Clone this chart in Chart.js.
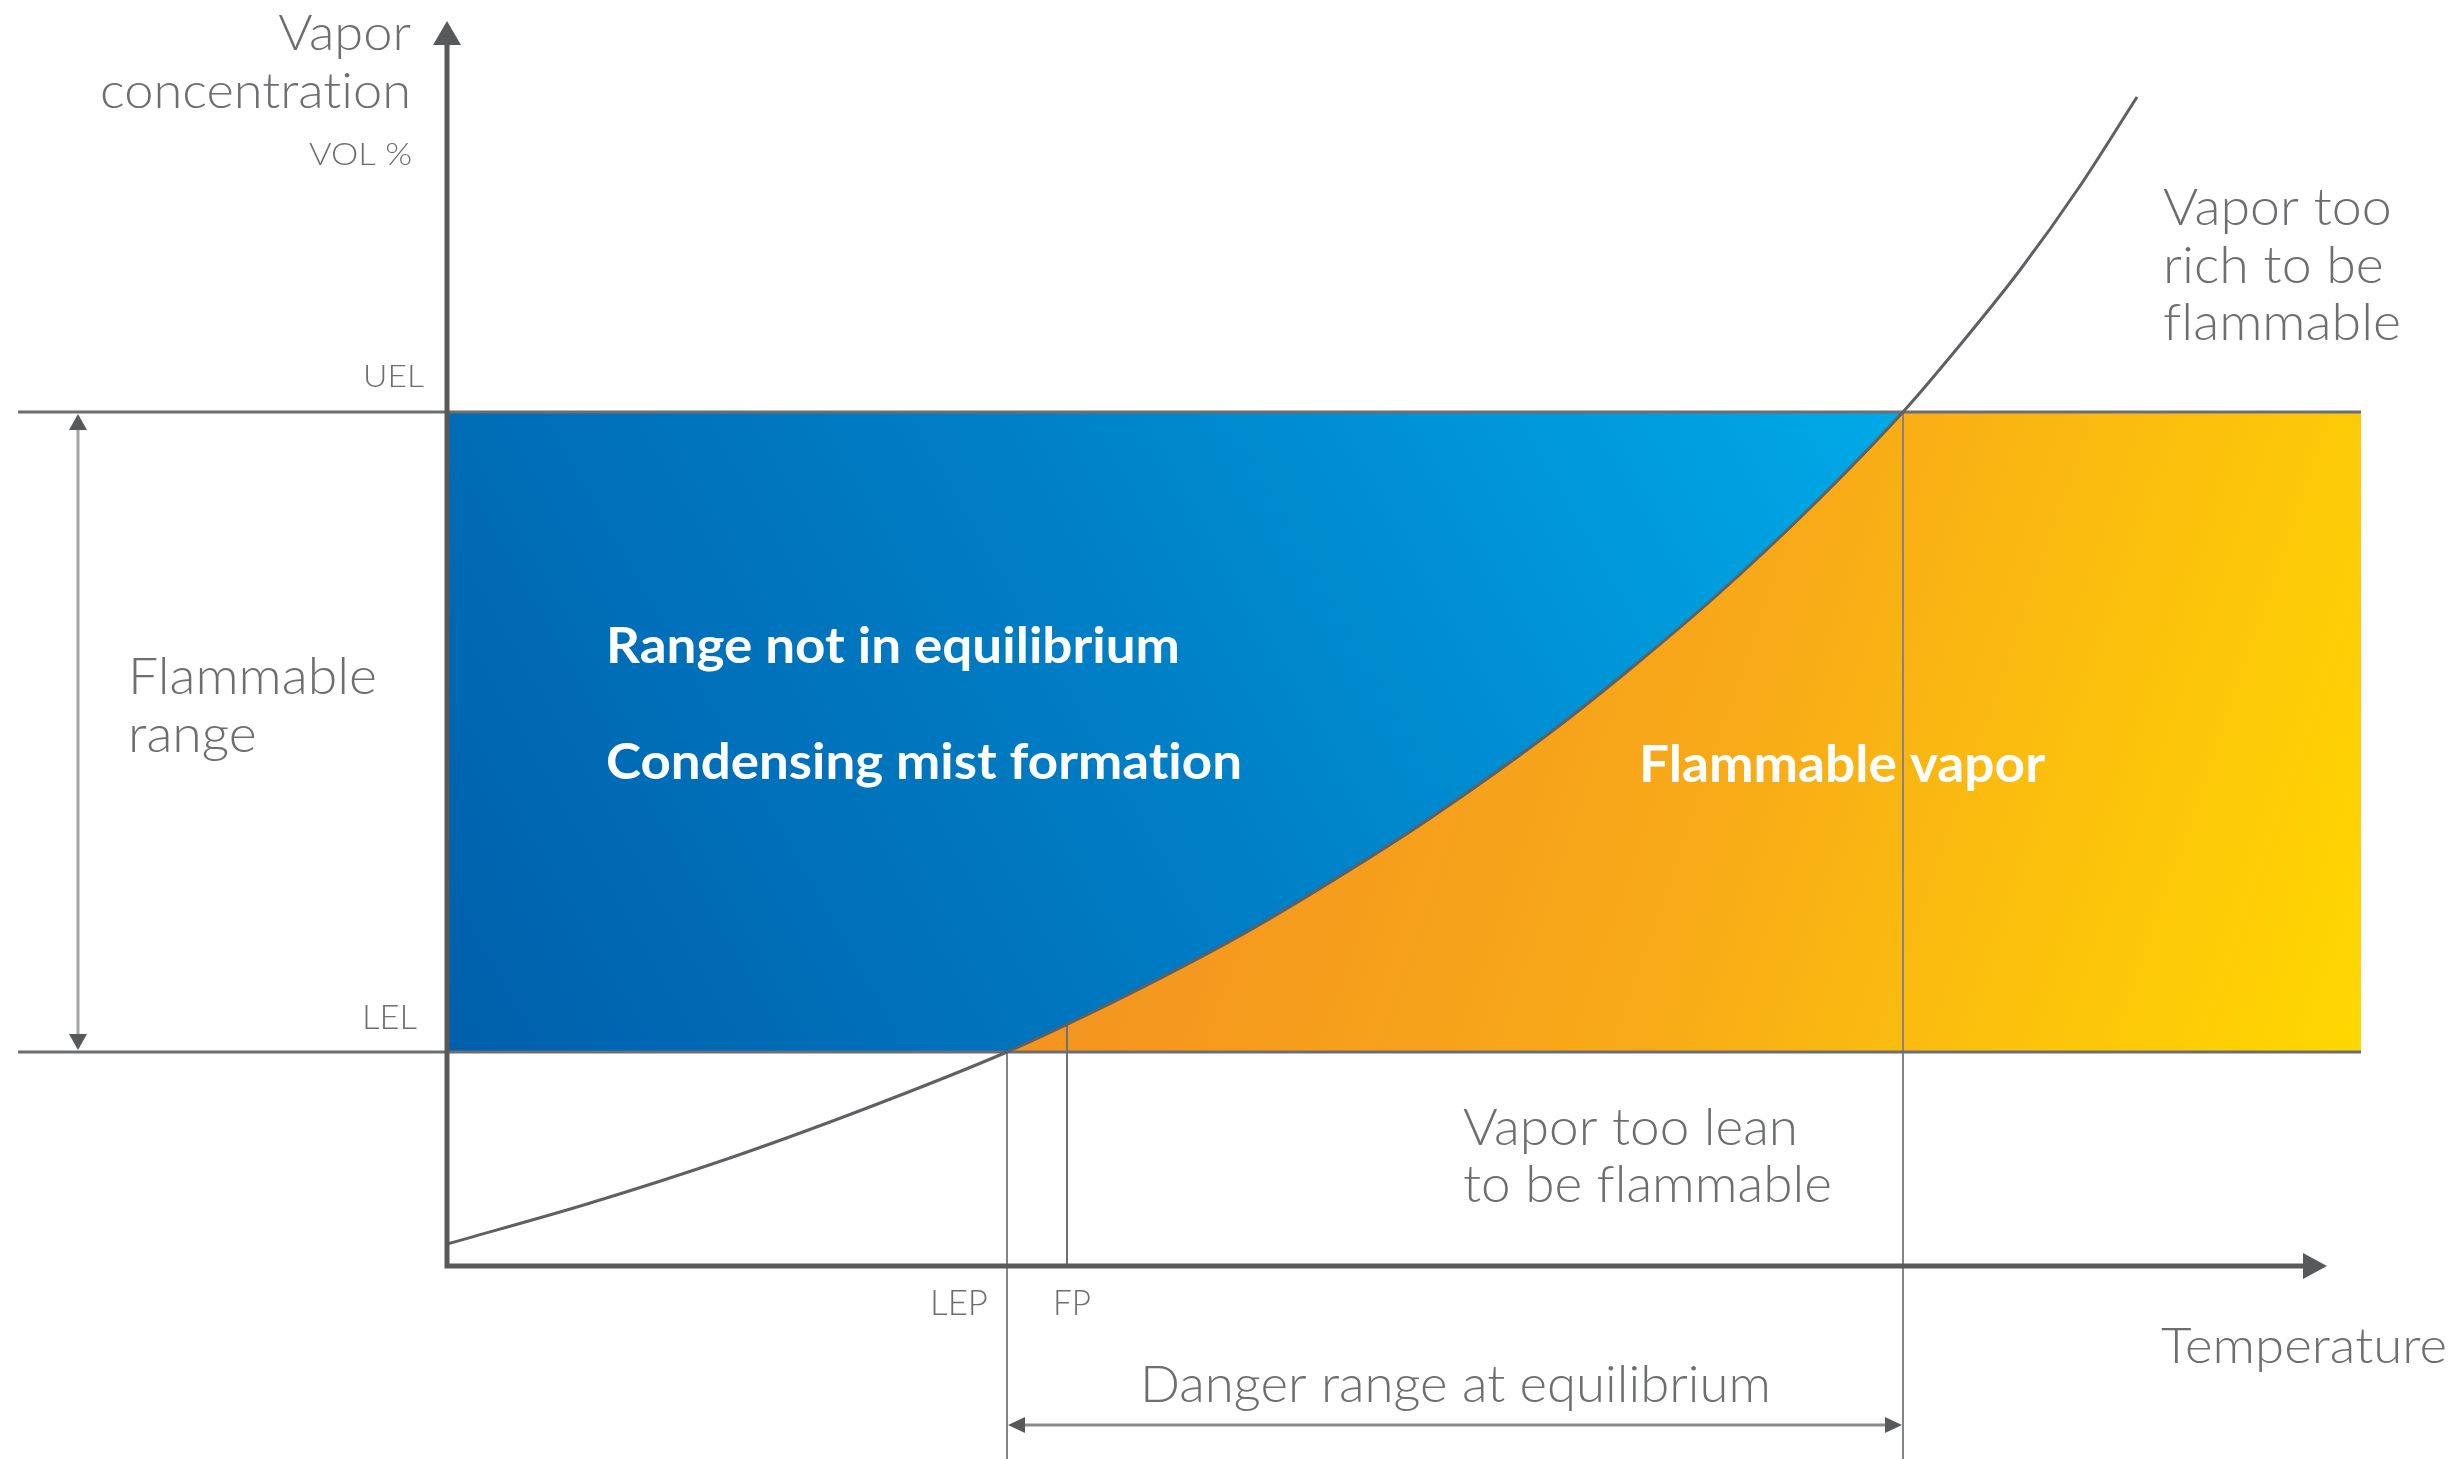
<!DOCTYPE html>
<html>
<head>
<meta charset="utf-8">
<title>Flammable range of a vapor</title>
<style>
  html, body { margin: 0; padding: 0; background: #ffffff; }
  canvas { display: block; }
</style>
<script src="https://cdn.jsdelivr.net/npm/chart.js@4.4.1/dist/chart.umd.min.js"></script>
</head>
<body>
<canvas id="chart" width="2459" height="1459"></canvas>
<script>
// Equilibrium vapor concentration curve (diagram units: temperature, vol %)
const curveTemp = [0, 14, 28, 42, 56, 62, 70.9, 79.8, 89, 98.2, 110.4, 118.8, 126.9, 136.3, 145.6, 151.3, 157.3, 163.3, 169];
const curveConc = [2.2, 6.2, 10.7, 15.8, 21.4, 24.15, 28.55, 33.3, 38.8, 44.7, 53.4, 60.1, 67.0, 75.8, 85.4, 92.1, 99.6, 108.0, 116.9];

// Explosion limits (concentration levels)
const LEL = 21.4;
const UEL = 85.4;

// Characteristic temperatures
const tempLEP = 56;     // lower explosion point
const tempFP = 62;      // flash point
const tempRich = 145.6; // curve reaches the UEL

// Extents of the drawing, in the same units
const xRange = [-44.7, 201.2];
const yRange = [-19.3, 126.6];
const fillEnd = 191.4;
const levelLineStart = -42.9;
const axisTempEnd = 188;
const axisConcEnd = 124.5;
const rangeArrowTemp = -36.9;
const dangerLevel = -15.9;

const curvePts = curveTemp.map((t, i) => ({ x: t, y: curveConc[i] }));
const concAtFP = curveConc[curveTemp.indexOf(tempFP)];

const GREY_TEXT = '#6d6e70';
const FONT = 'Lato, "Open Sans", "Noto Sans", sans-serif';

// gradients are rebuilt once the scales are laid out
const fills = { blue: '#0070b8', orange: '#f7a21b' };

const gradientPlugin = {
  id: 'regionGradients',
  afterLayout(chart) {
    const { x, y } = chart.scales;
    const ctx = chart.ctx;
    const bx0 = x.getPixelForValue(0), by0 = y.getPixelForValue(LEL);
    const bx1 = x.getPixelForValue(140), by1 = y.getPixelForValue(101.5);
    if ([bx0, by0, bx1, by1].every(Number.isFinite)) {
      const g = ctx.createLinearGradient(bx0, by0, bx1, by1);
      g.addColorStop(0, '#005fab');
      g.addColorStop(0.5, '#0080c7');
      g.addColorStop(1, '#00abe7');
      fills.blue = g;
    }
    const ox0 = x.getPixelForValue(60.3), oy0 = y.getPixelForValue(66.6);
    const ox1 = x.getPixelForValue(fillEnd), oy1 = y.getPixelForValue(LEL);
    if ([ox0, oy0, ox1, oy1].every(Number.isFinite)) {
      const g = ctx.createLinearGradient(ox0, oy0, ox1, oy1);
      g.addColorStop(0, '#f38f21');
      g.addColorStop(0.5, '#f8aa18');
      g.addColorStop(1, '#ffd800');
      fills.orange = g;
    }
  }
};

function seg(points, color, width, order, extra) {
  return Object.assign({
    data: points,
    showLine: true,
    borderColor: color,
    borderWidth: width,
    pointRadius: 0,
    pointHoverRadius: 0,
    fill: false,
    order: order
  }, extra || {});
}

// Text blocks: lines share one font size and one horizontal scale
const labelBlocks = [
  { lines: ['Vapor', 'concentration'], x: 411, y: 50, lh: 58, align: 'right', size: 49, weight: 300, color: GREY_TEXT, ref: 1, refWidth: 311 },
  { lines: ['VOL %'], x: 412, y: 165, lh: 0, align: 'right', size: 32, weight: 300, color: GREY_TEXT, ref: 0, refWidth: 103 },
  { lines: ['UEL'], x: 424, y: 387, lh: 0, align: 'right', size: 31, weight: 300, color: GREY_TEXT, ref: 0, refWidth: 61 },
  { lines: ['LEL'], x: 417, y: 1029, lh: 0, align: 'right', size: 33, weight: 300, color: GREY_TEXT, ref: 0, refWidth: 55 },
  { lines: ['Flammable', 'range'], x: 128, y: 694, lh: 58, align: 'left', size: 52, weight: 300, color: GREY_TEXT, ref: 0, refWidth: 249 },
  { lines: ['Range not in equilibrium'], x: 606, y: 663, lh: 0, align: 'left', size: 50, weight: 700, color: '#ffffff', ref: 0, refWidth: 574 },
  { lines: ['Condensing mist formation'], x: 606, y: 779, lh: 0, align: 'left', size: 50, weight: 700, color: '#ffffff', ref: 0, refWidth: 636 },
  { lines: ['Flammable vapor'], x: 1639, y: 782, lh: 0, align: 'left', size: 52, weight: 700, color: '#ffffff', ref: 0, refWidth: 406 },
  { lines: ['Vapor too', 'rich to be', 'flammable'], x: 2163, y: 225, lh: 57.5, align: 'left', size: 52, weight: 300, color: GREY_TEXT, ref: 2, refWidth: 238 },
  { lines: ['Vapor too lean', 'to be flammable'], x: 1463, y: 1145, lh: 57, align: 'left', size: 52, weight: 300, color: GREY_TEXT, ref: 1, refWidth: 369 },
  { lines: ['LEP'], x: 988, y: 1315, lh: 0, align: 'right', size: 35, weight: 300, color: GREY_TEXT, ref: 0, refWidth: 58 },
  { lines: ['FP'], x: 1053, y: 1315, lh: 0, align: 'left', size: 35, weight: 300, color: GREY_TEXT, ref: 0, refWidth: 38 },
  { lines: ['Temperature'], x: 2161, y: 1363, lh: 0, align: 'left', size: 50, weight: 300, color: GREY_TEXT, ref: 0, refWidth: 286 },
  { lines: ['Danger range at equilibrium'], x: 1140, y: 1402, lh: 0, align: 'left', size: 52, weight: 300, color: GREY_TEXT, ref: 0, refWidth: 631 }
];

function arrowHead(ctx, tipX, tipY, dx, dy, len, half, color) {
  const bx = tipX - dx * len, by = tipY - dy * len;
  ctx.beginPath();
  ctx.moveTo(tipX, tipY);
  ctx.lineTo(bx - dy * half, by + dx * half);
  ctx.lineTo(bx + dy * half, by - dx * half);
  ctx.closePath();
  ctx.fillStyle = color;
  ctx.fill();
}

const diagramPlugin = {
  id: 'diagramDecor',
  afterDatasetsDraw(chart) {
    const ctx = chart.ctx;
    const xs = chart.scales.x, ys = chart.scales.y;
    const ox = xs.getPixelForValue(0), oy = ys.getPixelForValue(0);
    const yTip = ys.getPixelForValue(axisConcEnd);
    const xTip = xs.getPixelForValue(axisTempEnd);
    const AXIS = '#58595b';
    ctx.save();
    ctx.strokeStyle = AXIS;
    ctx.lineWidth = 5;
    ctx.lineCap = 'butt';
    ctx.beginPath();
    ctx.moveTo(ox, oy + 2.5);
    ctx.lineTo(ox, yTip + 22);
    ctx.moveTo(ox - 2.5, oy);
    ctx.lineTo(xTip - 22, oy);
    ctx.stroke();
    arrowHead(ctx, ox, yTip, 0, -1, 24, 14, AXIS);
    arrowHead(ctx, xTip, oy, 1, 0, 24, 13, AXIS);

    // flammable range double arrow
    const ax = xs.getPixelForValue(rangeArrowTemp);
    arrowHead(ctx, ax, ys.getPixelForValue(UEL) + 2, 0, -1, 16, 9, '#58595b');
    arrowHead(ctx, ax, ys.getPixelForValue(LEL) - 2, 0, 1, 16, 9, '#58595b');

    // danger range double arrow
    const dy = ys.getPixelForValue(dangerLevel);
    arrowHead(ctx, xs.getPixelForValue(tempLEP) + 1, dy, -1, 0, 17, 8, '#58595b');
    arrowHead(ctx, xs.getPixelForValue(tempRich) - 1, dy, 1, 0, 17, 8, '#58595b');
    ctx.restore();
  },
  afterDraw(chart) {
    const ctx = chart.ctx;
    ctx.save();
    ctx.textBaseline = 'alphabetic';
    // plain glyphs, no "ti"/"fi" ligatures
    if ('textRendering' in ctx) ctx.textRendering = 'optimizeSpeed';
    if ('letterSpacing' in ctx) ctx.letterSpacing = '0.01px';
    labelBlocks.forEach(b => {
      ctx.font = `${b.weight} ${b.size}px ${FONT}`;
      const measured = ctx.measureText(b.lines[b.ref]).width;
      const sx = b.refWidth / measured;
      ctx.fillStyle = b.color;
      b.lines.forEach((line, i) => {
        ctx.save();
        ctx.translate(b.x, b.y + i * b.lh);
        ctx.scale(sx, 1);
        ctx.textAlign = b.align;
        ctx.fillText(line, 0, 0);
        ctx.restore();
      });
    });
    ctx.restore();
  }
};

new Chart(document.getElementById('chart'), {
  type: 'scatter',
  data: {
    datasets: [
      // flammable area between the limits (orange to yellow)
      seg([{ x: 0, y: UEL }, { x: fillEnd, y: UEL }], 'rgba(0,0,0,0)', 0, 10,
        { fill: { target: { value: LEL } }, backgroundColor: () => fills.orange }),
      // not-in-equilibrium area above the curve (blue)
      seg(curvePts, 'rgba(0,0,0,0)', 0, 9,
        { fill: { target: { value: UEL }, above: 'rgba(0,0,0,0)' }, backgroundColor: () => fills.blue, cubicInterpolationMode: 'monotone' }),
      // keep the area under the LEL white
      seg(curvePts, 'rgba(0,0,0,0)', 0, 8,
        { fill: { target: { value: LEL }, above: 'rgba(0,0,0,0)' }, backgroundColor: '#ffffff', cubicInterpolationMode: 'monotone' }),
      // reference verticals
      seg([{ x: tempRich, y: UEL }, { x: tempRich, y: yRange[0] }], '#838487', 2, 6),
      seg([{ x: tempLEP, y: LEL }, { x: tempLEP, y: yRange[0] }], '#838487', 2, 6),
      seg([{ x: tempFP, y: concAtFP }, { x: tempFP, y: 0 }], '#6f7073', 2, 6),
      // limit levels
      seg([{ x: levelLineStart, y: UEL }, { x: fillEnd, y: UEL }], '#6d6e71', 3, 4),
      seg([{ x: levelLineStart, y: LEL }, { x: fillEnd, y: LEL }], '#6d6e71', 3, 4),
      // vapor concentration curve
      seg(curvePts, '#5f6063', 3, 3, { cubicInterpolationMode: 'monotone' }),
      // range arrows (shafts)
      seg([{ x: rangeArrowTemp, y: LEL + 0.6 }, { x: rangeArrowTemp, y: UEL - 0.6 }], '#a3a5a8', 3, 2),
      seg([{ x: tempLEP + 1.2, y: dangerLevel }, { x: tempRich - 1.2, y: dangerLevel }], '#8a8b8e', 3, 2)
    ]
  },
  options: {
    responsive: false,
    devicePixelRatio: 1,
    animation: false,
    events: [],
    layout: { padding: 0, autoPadding: false },
    scales: {
      x: { type: 'linear', min: xRange[0], max: xRange[1], display: false },
      y: { type: 'linear', min: yRange[0], max: yRange[1], display: false }
    },
    plugins: {
      legend: { display: false },
      tooltip: { enabled: false },
      filler: { propagate: false }
    }
  },
  plugins: [gradientPlugin, diagramPlugin]
});
</script>
</body>
</html>
